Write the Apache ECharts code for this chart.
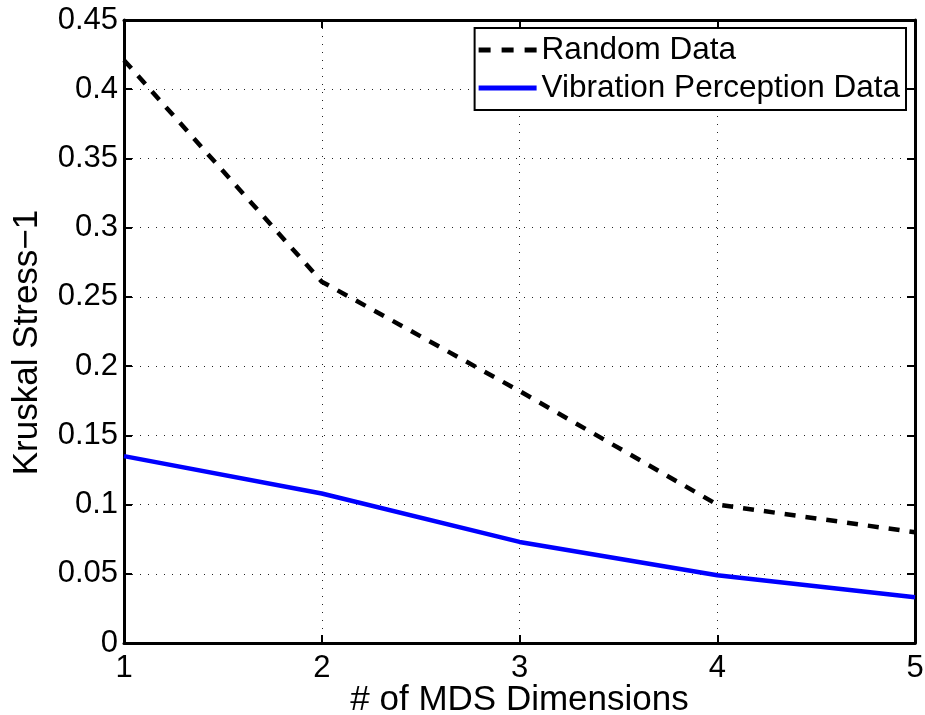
<!DOCTYPE html>
<html><head><meta charset="utf-8">
<script src="https://cdn.jsdelivr.net/npm/echarts@6/dist/echarts.min.js"></script>
<style>html,body{margin:0;padding:0;background:#fff}#c{width:925px;height:715px}</style>
</head><body><div id="c"></div>
<script>
const dims = [1, 2, 3, 4, 5];
const randomData = [0.421, 0.261, 0.182, 0.100, 0.080];
const vibrationData = [0.135, 0.108, 0.073, 0.049, 0.033];
const yTicks = [0, 0.05, 0.1, 0.15, 0.2, 0.25, 0.3, 0.35, 0.4, 0.45];

const FONT = 'Liberation Sans, Arial, sans-serif';
const chart = echarts.init(document.getElementById('c'));
const gridLine = { show: true, lineStyle: { color: '#222', width: 1, type: [1, 7] } };
const axisLine = { show: true, onZero: false, lineStyle: { color: '#000', width: 3 } };
const tick = { show: true, inside: true, length: 8, lineStyle: { color: '#000', width: 2 } };

chart.setOption({
  backgroundColor: '#fff',
  animation: false,
  grid: { left: 124, right: 10, top: 20, bottom: 72, containLabel: false, outerBoundsMode: 'none' },
  legend: {
    right: 19, top: 28,
    orient: 'vertical',
    backgroundColor: '#fff',
    borderColor: '#000', borderWidth: 2, borderRadius: 0,
    padding: [3, 6, 3, 4],
    itemGap: 0,
    itemWidth: 58, itemHeight: 5,
    textStyle: { fontFamily: FONT, fontSize: 31.5, color: '#000', lineHeight: 38 },
    data: [
      { name: 'Random Data', icon: 'path://M0,0h12v5h-12z M23,0h12v5h-12z M46,0h12v5h-12z' },
      { name: 'Vibration Perception Data', icon: 'path://M0,0h58v5h-58z' }
    ]
  },
  xAxis: [{
    type: 'value', min: 1, max: 5, interval: 1,
    name: '# of MDS Dimensions', nameLocation: 'middle', nameGap: 40, nameMoveOverlap: false,
    nameTextStyle: { fontFamily: FONT, fontSize: 35, color: '#000' },
    axisLine, axisTick: tick,
    axisLabel: { fontFamily: FONT, fontSize: 31, color: '#000', margin: 10 },
    splitLine: gridLine
  }, {
    type: 'value', min: 1, max: 5, interval: 1, position: 'top',
    axisLine, axisTick: tick, axisLabel: { show: false }, splitLine: { show: false }
  }],
  yAxis: [{
    type: 'value', min: 0, max: 0.45, interval: 0.05,
    name: 'Kruskal Stress\u22121', nameLocation: 'middle', nameGap: 79, nameMoveOverlap: false,
    nameTextStyle: { fontFamily: FONT, fontSize: 35, color: '#000', padding: [0, 22, 0, 0] },
    axisLine, axisTick: tick,
    axisLabel: { fontFamily: FONT, fontSize: 31, color: '#000', margin: 6,
      formatter: v => { const t = yTicks.find(k => Math.abs(k - v) < 1e-9); return String(+(t ?? v).toFixed(2)); } },
    splitLine: gridLine
  }, {
    type: 'value', min: 0, max: 0.45, interval: 0.05, position: 'right',
    axisLine, axisTick: tick, axisLabel: { show: false }, splitLine: { show: false }
  }],
  series: [{
    name: 'Random Data', type: 'line', symbol: 'none',
    data: dims.map((d, i) => [d, randomData[i]]),
    lineStyle: { color: '#000', width: 4.5, type: [11, 10] },
    itemStyle: { color: '#000' }
  }, {
    name: 'Vibration Perception Data', type: 'line', symbol: 'none',
    data: dims.map((d, i) => [d, vibrationData[i]]),
    lineStyle: { color: '#0000ff', width: 4.5, type: 'solid' },
    itemStyle: { color: '#0000ff' }
  }]
});
</script></body></html>
